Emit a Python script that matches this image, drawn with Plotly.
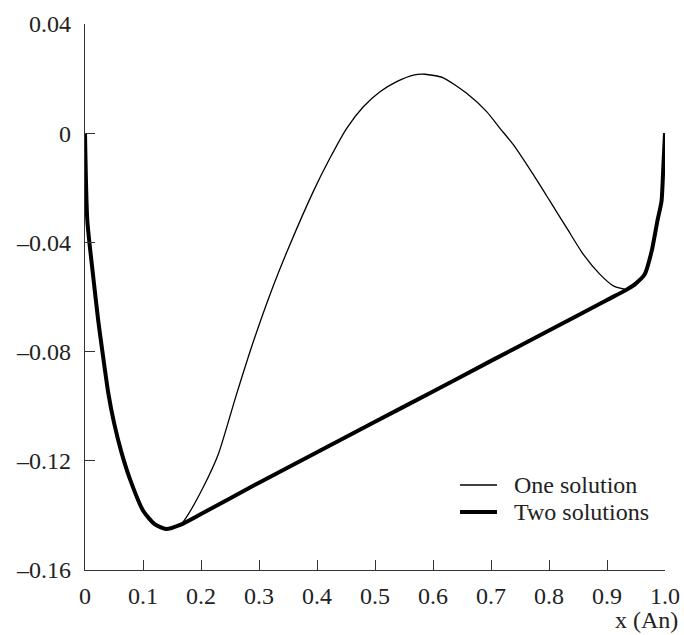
import plotly.graph_objects as go

# Two solutions (thick)
two_x = [0, 0.004, 0.0144, 0.023, 0.03, 0.04, 0.05, 0.063, 0.078, 0.1005, 0.12, 0.14, 0.164,
         0.2, 0.3, 0.4, 0.5, 0.6, 0.7, 0.8, 0.9, 0.934, 0.95, 0.965, 0.977, 0.987, 0.994, 0.997, 1.0]
two_y = [0, -0.032, -0.053, -0.069, -0.08, -0.095, -0.106, -0.117, -0.127, -0.1384, -0.1432, -0.145, -0.1435,
         -0.1395, -0.128, -0.1169, -0.1057, -0.0946, -0.0834, -0.0723, -0.0611, -0.0573, -0.055, -0.0517,
         -0.0432, -0.032, -0.0249, -0.0128, 0.0]

# One solution (thin)
one_x = [0, 0.004, 0.0144, 0.023, 0.03, 0.04, 0.05, 0.063, 0.078, 0.1005, 0.12, 0.14, 0.164,
         0.1753, 0.204, 0.23, 0.26, 0.29, 0.32, 0.35, 0.3937, 0.4224, 0.4512, 0.4799,
         0.5086, 0.5374, 0.5661, 0.5862, 0.6178, 0.658, 0.6925, 0.7155, 0.7385, 0.773, 0.8017, 0.8305,
         0.8592, 0.8879, 0.911, 0.934, 0.95, 0.965, 0.977, 0.987, 0.994, 0.997, 1.0]
one_y = [0, -0.032, -0.053, -0.069, -0.08, -0.095, -0.106, -0.117, -0.127, -0.1384, -0.1432, -0.145, -0.1435,
         -0.1405, -0.1296, -0.1175, -0.0965, -0.0765, -0.0585, -0.0425, -0.0213, -0.0091, 0.0018, 0.0097,
         0.0152, 0.0189, 0.0213, 0.0216, 0.0203, 0.0146, 0.0079, 0.0018, -0.0042, -0.0152, -0.0249, -0.0347,
         -0.0444, -0.0517, -0.0559, -0.0572, -0.055, -0.0517, -0.0432, -0.032, -0.0249, -0.0128, 0.0]

x_ticks = [0, 0.1, 0.2, 0.3, 0.4, 0.5, 0.6, 0.7, 0.8, 0.9, 1.0]
x_tick_labels = ["0", "0.1", "0.2", "0.3", "0.4", "0.5", "0.6", "0.7", "0.8", "0.9", "1.0"]
y_ticks = [0.04, 0, -0.04, -0.08, -0.12, -0.16]
y_tick_labels = ["0.04", "0", "–0.04", "–0.08", "–0.12", "–0.16"]

series_names = ["One solution", "Two solutions"]
series_widths = [1.3, 4]

FONT = "Liberation Serif, Times New Roman, serif"
TXT = "#222222"

fig = go.Figure()
fig.add_trace(go.Scatter(x=one_x, y=one_y, mode="lines", name=series_names[0], showlegend=False,
                         line=dict(color="black", width=series_widths[0], shape="spline", smoothing=0.6)))
fig.add_trace(go.Scatter(x=two_x, y=two_y, mode="lines", name=series_names[1], showlegend=False,
                         line=dict(color="black", width=series_widths[1], shape="spline", smoothing=0.6)))

axis_common = dict(showline=True, linecolor="#333333", linewidth=1.3, ticks="inside",
                   ticklen=10, tickwidth=1.3, tickcolor="#333333", showgrid=False,
                   zeroline=False, automargin=False,
                   tickfont=dict(family=FONT, size=24, color=TXT))

fig.update_xaxes(range=[0, 1.0], tickvals=x_ticks, ticktext=x_tick_labels,
                 ticklabelstandoff=4, **axis_common)
fig.update_yaxes(range=[-0.16, 0.04], tickvals=y_ticks, ticktext=y_tick_labels,
                 ticklabelstandoff=8, **axis_common)

fig.add_annotation(text="x (An)", xref="paper", yref="paper", x=1.026, y=-0.091,
                   xanchor="right", yanchor="middle", showarrow=False,
                   font=dict(family=FONT, size=24, color=TXT))

# manual legend
leg_rows_y = [0.1557, 0.1062]
for name, w, ly in zip(series_names, series_widths, leg_rows_y):
    fig.add_shape(type="line", xref="paper", yref="paper", x0=0.6466, x1=0.7103, y0=ly, y1=ly,
                  line=dict(color="black", width=w))
    fig.add_annotation(text=name, xref="paper", yref="paper", x=0.7362, y=ly,
                       xanchor="left", yanchor="middle", showarrow=False,
                       font=dict(family=FONT, size=24, color=TXT))

fig.update_layout(
    width=684, height=635,
    margin=dict(l=85, r=19, t=24, b=65, autoexpand=False),
    plot_bgcolor="white", paper_bgcolor="white",
    font=dict(family=FONT, size=24, color=TXT),
    showlegend=False,
)

fig.write_html("out.html", config={"displayModeBar": False},
               post_script="document.body.style.margin='0px';")
